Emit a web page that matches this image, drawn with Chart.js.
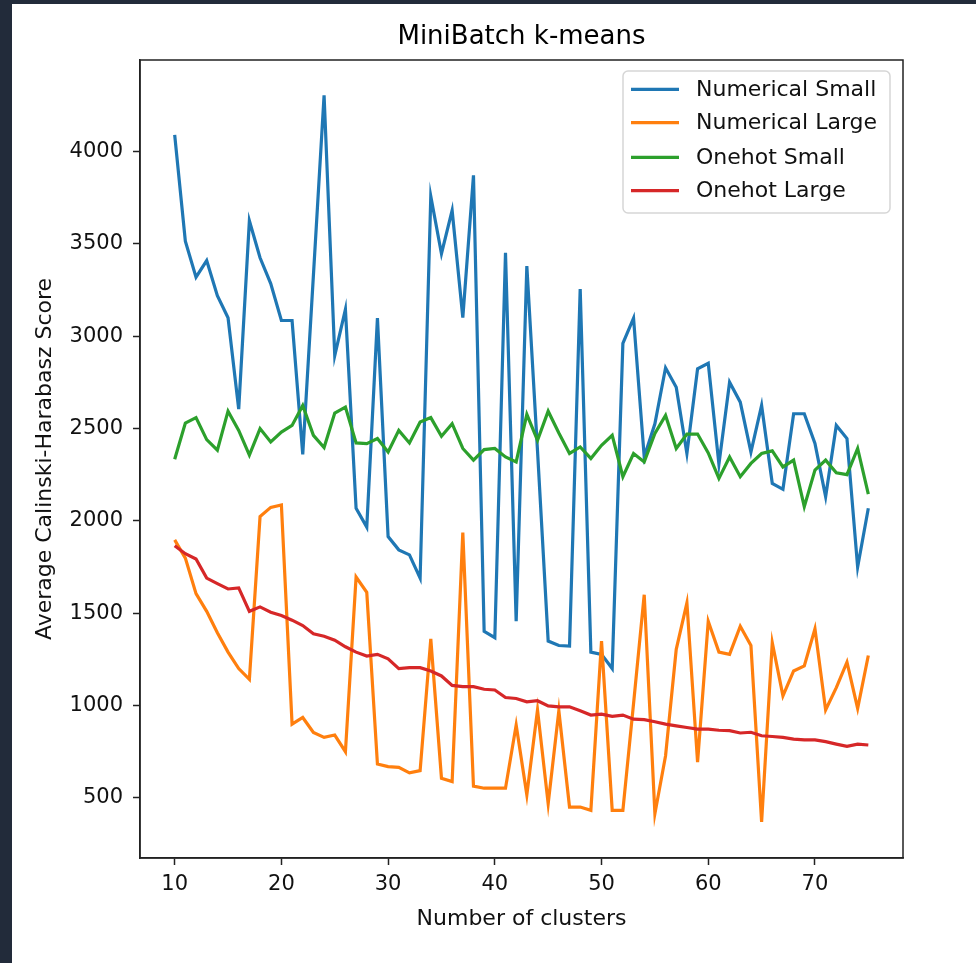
<!DOCTYPE html>
<html><head><meta charset="utf-8">
<script src="https://cdn.jsdelivr.net/npm/chart.js@4.4.1/dist/chart.umd.min.js"></script>
<style>
html,body{margin:0;padding:0;background:#222b3a;width:976px;height:963px;overflow:hidden}
#wrap{position:absolute;left:12px;top:4px;width:964px;height:959px;background:#fff}
canvas{display:block}
</style></head><body>
<div id="wrap"><canvas id="c" width="964" height="959"></canvas></div>
<script>
const clusters = [10,11,12,13,14,15,16,17,18,19,20,21,22,23,24,25,26,27,28,29,30,31,32,33,34,35,36,37,38,39,40,41,42,43,44,45,46,47,48,49,50,51,52,53,54,55,56,57,58,59,60,61,62,63,64,65,66,67,68,69,70,71,72,73,74,75];
const numericalSmall = [4090,3515,3320,3410,3220,3100,2605,3625,3425,3285,3085,3085,2360,3330,4305,2895,3145,2068,1966,3098,1915,1843,1816,1690,3758,3447,3681,3101,3871,1402,1367,3452,1456,3380,2380,1349,1325,1322,3255,1289,1277,1200,2961,3098,2346,2526,2829,2724,2365,2823,2853,2307,2751,2643,2373,2625,2203,2171,2580,2580,2419,2131,2517,2446,1750,2068];
const numericalLarge = [1897,1798,1606,1510,1394,1289,1200,1142,2023,2073,2086,899,935,854,827,840,750,1696,1613,683,669,665,635,647,1361,606,588,1936,563,552,552,552,894,516,976,468,971,450,450,432,1349,432,432,1010,1600,414,728,1304,1556,693,1456,1289,1277,1429,1325,369,1340,1052,1187,1214,1415,976,1097,1235,984,1271];
const onehotSmall = [2334,2530,2559,2440,2383,2594,2490,2356,2500,2427,2481,2517,2625,2463,2397,2584,2616,2422,2418,2446,2373,2490,2422,2535,2559,2458,2526,2392,2329,2386,2392,2346,2319,2577,2436,2594,2476,2365,2400,2338,2409,2463,2239,2365,2319,2473,2571,2392,2470,2470,2368,2230,2346,2239,2311,2365,2379,2292,2329,2077,2275,2329,2260,2250,2392,2145];
const onehotLarge = [1865,1822,1793,1690,1660,1631,1637,1510,1534,1505,1487,1462,1433,1388,1375,1354,1318,1289,1268,1277,1253,1200,1205,1205,1187,1160,1109,1102,1102,1088,1084,1043,1038,1020,1026,998,993,993,971,948,953,941,948,926,923,912,899,890,881,872,872,866,864,851,855,836,832,827,818,814,814,804,791,779,791,786];
const seriesNames = ['Numerical Small','Numerical Large','Onehot Small','Onehot Large'];
const xTicks = [10,20,30,40,50,60,70];
const yTicks = [500,1000,1500,2000,2500,3000,3500,4000];

const F = "'DejaVu Sans', sans-serif";
const colors = ['#1f77b4','#ff7f0e','#2ca02c','#d62728'];
const seriesData = [numericalSmall, numericalLarge, onehotSmall, onehotLarge];

const datasets = seriesData.map((arr,i)=>({
  label: seriesNames[i],
  data: clusters.map((k,j)=>({x:k,y:arr[j]})),
  borderColor: colors[i],
  backgroundColor: colors[i],
  borderWidth: 3.2,
  pointRadius: 0,
  tension: 0,
  fill: false,
  order: 4 - i
}));

const spines = {
  id:'spines',
  afterDatasetsDraw(chart){
    const a = chart.chartArea, ctx = chart.ctx;
    ctx.save();
    ctx.strokeStyle = '#222';
    ctx.lineWidth = 1.5;
    ctx.strokeRect(a.left, a.top, a.right - a.left, a.bottom - a.top);
    ctx.restore();
  }
};

const boxLegend = {
  id:'boxLegend',
  afterDraw(chart){
    const ctx = chart.ctx;
    const x0 = 611, y0 = 67, w = 267, h = 142, r = 5;
    ctx.save();
    ctx.beginPath();
    ctx.moveTo(x0+r,y0);
    ctx.arcTo(x0+w,y0,x0+w,y0+h,r);
    ctx.arcTo(x0+w,y0+h,x0,y0+h,r);
    ctx.arcTo(x0,y0+h,x0,y0,r);
    ctx.arcTo(x0,y0,x0+w,y0,r);
    ctx.closePath();
    ctx.fillStyle = 'rgba(255,255,255,0.8)';
    ctx.fill();
    ctx.strokeStyle = '#d6d6d6';
    ctx.lineWidth = 1.5;
    ctx.stroke();
    const rows = [85.3, 118.7, 153.3, 186.7];
    chart.data.datasets.forEach((ds,i)=>{
      const y = rows[i];
      ctx.beginPath();
      ctx.moveTo(619, y);
      ctx.lineTo(667, y);
      ctx.strokeStyle = ds.borderColor;
      ctx.lineWidth = 3.2;
      ctx.stroke();
      ctx.fillStyle = '#111';
      ctx.font = "22px " + F;
      ctx.textBaseline = 'middle';
      ctx.textAlign = 'left';
      ctx.fillText(ds.label, 684, y + 1);
    });
    ctx.restore();
  }
};

new Chart(document.getElementById('c'), {
  type:'line',
  data:{datasets},
  plugins:[spines, boxLegend],
  options:{
    responsive:false,
    animation:false,
    devicePixelRatio:1,
    layout:{padding:{left:0,right:73,top:0,bottom:0}},
    plugins:{
      legend:{display:false},
      tooltip:{enabled:false},
      title:{display:true,fullSize:false,text:'MiniBatch k-means',color:'#000',
        font:{family:F,size:26,weight:'normal'},padding:{top:18,bottom:6.8}}
    },
    scales:{
      x:{
        type:'linear', min:6.75, max:78.25,
        afterBuildTicks:s=>{ s.ticks = xTicks.map(v=>({value:v})); },
        afterFit:s=>{ s.height = 105; },
        grid:{drawOnChartArea:false,drawTicks:true,tickLength:7,tickColor:'#222',tickWidth:1.5},
        border:{display:true,color:'#222',width:1.5},
        ticks:{color:'#111',font:{family:F,size:21},padding:7,maxRotation:0,autoSkip:false,callback:v=>String(v)},
        title:{display:true,text:'Number of clusters',color:'#111',font:{family:F,size:22},padding:{top:0,bottom:31}}
      },
      y:{
        type:'linear', min:174, max:4496,
        afterBuildTicks:s=>{ s.ticks = yTicks.map(v=>({value:v})); },
        afterFit:s=>{ s.width = 128; },
        grid:{drawOnChartArea:false,drawTicks:true,tickLength:7,tickColor:'#222',tickWidth:1.5},
        border:{display:true,color:'#222',width:1.5},
        ticks:{color:'#111',font:{family:F,size:21},padding:10,autoSkip:false,callback:v=>String(v)},
        title:{display:true,text:'Average Calinski-Harabasz Score',color:'#111',font:{family:F,size:22},padding:{top:20,bottom:0}}
      }
    }
  }
});
</script>
</body></html>
